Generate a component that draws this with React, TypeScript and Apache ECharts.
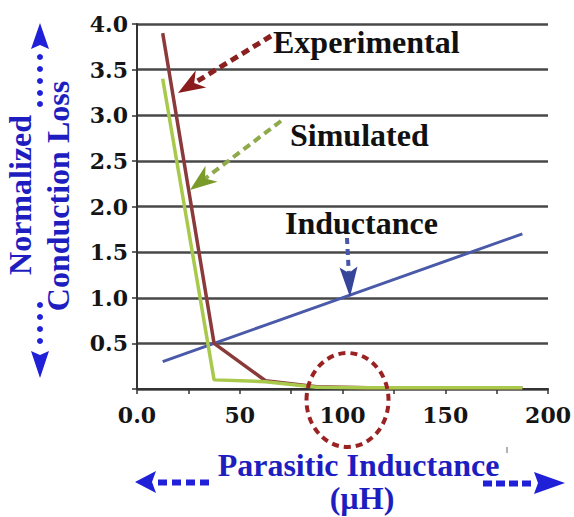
import React, { useEffect, useRef } from "react";
import * as echarts from "echarts";

// ---- data ----
const xValues = [12.5, 37.5, 62.5, 87.5, 112.5, 137.5, 162.5, 187.5];
const experimental = [3.9, 0.5, 0.09, 0.025, 0.015, 0.015, 0.015, 0.015];
const simulated = [3.4, 0.1, 0.08, 0.02, 0.015, 0.015, 0.015, 0.015];
const inductance = [0.3, 0.5, 0.7, 0.9, 1.1, 1.3, 1.5, 1.7];
const xTickValues = [0, 50, 100, 150, 200];
const xTickLabels = ["0.0", "50", "100", "150", "200"];
const yTickValues = [0.5, 1, 1.5, 2, 2.5, 3, 3.5, 4];
const yTickLabels = ["0.5", "1.0", "1.5", "2.0", "2.5", "3.0", "3.5", "4.0"];

const TEXT_BLUE = "#1e1ec0";
const ARROW_BLUE = "#2020d8";
const SERIF = '"Liberation Serif", "Times New Roman", serif';

function arrow(tail: number[], tip: number[], len: number, halfW: number, notch: number, headColor: string, lineColor: string, lineWidth: number, dash: number[]) {
  const dx = tip[0] - tail[0];
  const dy = tip[1] - tail[1];
  const d = Math.hypot(dx, dy);
  const ux = dx / d, uy = dy / d;
  const px = -uy, py = ux;
  const bx = tip[0] - ux * len, by = tip[1] - uy * len;
  const nx = tip[0] - ux * (len - notch), ny = tip[1] - uy * (len - notch);
  return [
    {
      type: "line",
      z: 100,
      shape: { x1: tail[0], y1: tail[1], x2: nx, y2: ny },
      style: { stroke: lineColor, lineWidth, lineDash: dash, lineCap: "butt" },
    },
    {
      type: "polygon",
      z: 101,
      shape: { points: [tip, [bx + px * halfW, by + py * halfW], [nx, ny], [bx - px * halfW, by - py * halfW]] },
      style: { fill: headColor },
    },
  ];
}

function label(text: string, x: number, y: number, opts: any = {}) {
  return {
    type: "text",
    z: 102,
    x,
    y,
    rotation: opts.rotation || 0,
    style: {
      text,
      fill: opts.fill || "#111",
      fontSize: opts.fontSize || 32,
      fontWeight: "bold",
      fontFamily: SERIF,
      align: opts.align || "left",
      verticalAlign: "middle",
    },
  };
}

export default function App() {
  const ref = useRef<HTMLDivElement>(null);
  useEffect(() => {
    document.body.style.margin = "0";
    const chart = echarts.init(ref.current!, null, { renderer: "svg" });

    const graphics: any[] = [];
    // annotation texts
    graphics.push(label("Experimental", 273, 42));
    graphics.push(label("Simulated", 290, 135));
    graphics.push(label("Inductance", 285, 222.5));
    graphics.push(...arrow([271, 36], [178, 93], 27, 10, 8, "#8a1c1c", "#8a2020", 5, [8, 5]));
    graphics.push(...arrow([281, 121], [190, 190], 27, 10, 8, "#7a9a2a", "#8faa4a", 4, [8, 5]));
    graphics.push(...arrow([347, 238], [350, 297], 30, 9, 6, "#35459a", "#4656a8", 4, [6, 5]));
    // red dashed circle
    graphics.push({
      type: "ellipse",
      z: 100,
      shape: { cx: 347.5, cy: 400, rx: 41, ry: 47 },
      style: { fill: "none", stroke: "#9b2222", lineWidth: 4, lineDash: [7, 5] },
    });
    // axis titles
    graphics.push(label("Normalized", 19.5, 195, { fill: TEXT_BLUE, align: "center", rotation: Math.PI / 2 }));
    graphics.push(label("Conduction Loss", 58, 196, { fill: TEXT_BLUE, align: "center", rotation: Math.PI / 2 }));
    graphics.push(label("Parasitic Inductance", 358.5, 465, { fill: TEXT_BLUE, align: "center" }));
    graphics.push(label("(\u00b5H)", 362, 498, { fill: TEXT_BLUE, align: "center" }));
    // y title arrows (dotted)
    graphics.push({ type: "polygon", z: 100, shape: { points: [[40, 23], [31, 49], [40, 45], [49, 49]] }, style: { fill: ARROW_BLUE } });
    [57, 69, 81, 93, 104].forEach((y) =>
      graphics.push({ type: "circle", z: 100, shape: { cx: 40, cy: y, r: 3 }, style: { fill: ARROW_BLUE } })
    );
    [305, 317, 329, 341].forEach((y) =>
      graphics.push({ type: "circle", z: 100, shape: { cx: 40, cy: y, r: 3 }, style: { fill: ARROW_BLUE } })
    );
    graphics.push({ type: "polygon", z: 100, shape: { points: [[40, 378], [31, 351], [40, 355], [49, 351]] }, style: { fill: ARROW_BLUE } });
    // x title arrows (dashed)
    graphics.push({ type: "polygon", z: 100, shape: { points: [[135, 482], [156, 471], [152, 482], [156, 493]] }, style: { fill: ARROW_BLUE } });
    [158, 172, 186, 200].forEach((x) =>
      graphics.push({ type: "rect", z: 100, shape: { x, y: 479.5, width: 9, height: 6 }, style: { fill: ARROW_BLUE } })
    );
    [483, 496, 509, 522].forEach((x) =>
      graphics.push({ type: "rect", z: 100, shape: { x, y: 480.5, width: 9, height: 6 }, style: { fill: ARROW_BLUE } })
    );
    graphics.push({ type: "polygon", z: 100, shape: { points: [[565, 483], [534, 472], [538, 483], [534, 494]] }, style: { fill: ARROW_BLUE } });
    // tiny stray mark
    graphics.push({ type: "line", z: 100, shape: { x1: 507, y1: 447, x2: 507, y2: 453 }, style: { stroke: "#666", lineWidth: 1 } });

    const toPairs = (ys: number[]) => xValues.map((x, i) => [x, ys[i]]);

    chart.setOption({
      animation: false,
      backgroundColor: "#ffffff",
      grid: { left: 137, right: 21, top: 24, bottom: 128, containLabel: false },
      xAxis: {
        type: "value",
        min: 0,
        max: 200,
        interval: 50,
        axisLine: { show: true, onZero: false, lineStyle: { color: "#333", width: 2 } },
        axisTick: { show: true, length: 5, lineStyle: { color: "#333", width: 1.5 } },
        minorTick: { show: true, splitNumber: 2, length: 5, lineStyle: { color: "#333", width: 1.5 } },
        splitLine: { show: false },
        axisLabel: {
          margin: 15,
          color: "#151515",
          fontFamily: '"DejaVu Serif", serif',
          fontWeight: "bold",
          fontSize: 22,
          formatter: (v: number) => {
            const i = xTickValues.indexOf(v);
            return i >= 0 ? xTickLabels[i] : "";
          },
        },
      },
      yAxis: {
        type: "value",
        min: 0,
        max: 4,
        interval: 0.5,
        axisLine: { show: true, lineStyle: { color: "#333", width: 2 } },
        axisTick: { show: true, length: 5, lineStyle: { color: "#333", width: 1.5 } },
        splitLine: { show: true, lineStyle: { color: "#484848", width: 2.5 } },
        axisLabel: {
          margin: 9,
          color: "#151515",
          fontFamily: '"DejaVu Serif", serif',
          fontWeight: "bold",
          fontSize: 22,
          formatter: (v: number) => {
            const i = yTickValues.findIndex((t) => Math.abs(t - v) < 1e-9);
            return i >= 0 ? yTickLabels[i] : "";
          },
        },
      },
      series: [
        {
          name: "Inductance",
          type: "line",
          data: toPairs(inductance),
          symbol: "none",
          lineStyle: { color: "#4a5aa8", width: 3 },
          z: 2,
        },
        {
          name: "Experimental",
          type: "line",
          data: toPairs(experimental),
          symbol: "none",
          lineStyle: { color: "#8a3a3a", width: 3.5 },
          z: 3,
        },
        {
          name: "Simulated",
          type: "line",
          data: toPairs(simulated),
          symbol: "none",
          lineStyle: { color: "#a9c94c", width: 3.5 },
          z: 4,
        },
      ],
      graphic: { elements: graphics },
    });
    return () => chart.dispose();
  }, []);
  return <div ref={ref} style={{ width: 574, height: 517 }} />;
}
